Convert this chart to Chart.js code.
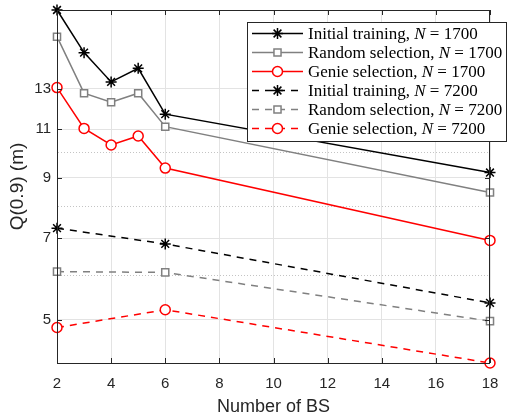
<!DOCTYPE html>
<html>
<head>
<meta charset="utf-8">
<script src="https://cdn.jsdelivr.net/npm/chart.js@4.4.1/dist/chart.umd.min.js"></script>
<style>
  body { margin: 0; background: #fff; }
  #wrap { width: 529px; height: 418px; }
</style>
</head>
<body>
<div id="wrap"><canvas id="qChart" width="529" height="418"></canvas></div>
<script>
// x positions (number of BS)
const bs1700 = [2, 3, 4, 5, 6, 18];
const bs7200 = [2, 6, 18];

// Q(0.9) in metres
const initial1700 = [18.0, 15.09, 13.37, 14.14, 11.70, 9.19];
const random1700 = [16.12, 12.76, 12.29, 12.76, 11.11, 8.46];
const genie1700 = [13.06, 11.03, 10.30, 10.69, 9.36, 6.94];
const initial7200 = [7.30, 6.84, 5.36];
const random7200 = [6.10, 6.08, 4.97];
const genie7200 = [4.84, 5.21, 4.18];

const legendNames = ['Initial training', 'Random selection', 'Genie selection',
                     'Initial training', 'Random selection', 'Genie selection'];
const legendN = ['1700', '1700', '1700', '7200', '7200', '7200'];

const yTickValues = [5, 7, 9, 11, 13];
const yMinorGrid = [6, 8, 10];
const yMin = 4.18, yMax = 18.0;

const axisColor = '#262626';
const sansFont = '"Liberation Sans", Arial, sans-serif';
const DASH = [7, 6];

function pts(xs, ys) {
    return xs.map((x, i) => ({ x: x, y: ys[i] }));
}

function series(label, xs, ys, color, style, dashed) {
    return {
        label: label,
        data: pts(xs, ys),
        borderColor: color,
        backgroundColor: '#fff',
        pointBackgroundColor: style === 'star' ? color : '#fff',
        pointBorderColor: color,
        borderWidth: 1.5,
        pointBorderWidth: 1.5,
        borderDash: dashed ? DASH : [],
        pointStyle: style,
        pointRadius: style === 'star' ? 5.5 : 5,
        tension: 0,
        clip: false
    };
}

// box around plot with inward ticks like matlab
const boxPlugin = {
    id: 'axesBox',
    afterDatasetsDraw(chart) {
        const c = chart.ctx, a = chart.chartArea;
        const xs = chart.scales.x, ys = chart.scales.y;
        c.save();
        c.strokeStyle = axisColor;
        c.lineWidth = 1;
        c.strokeRect(Math.round(a.left) + 0.5, Math.round(a.top) + 0.5,
                     Math.round(a.right - a.left) - 1, Math.round(a.bottom - a.top));
        c.beginPath();
        for (let v = 2; v <= 18; v += 2) {
            const px = Math.round(xs.getPixelForValue(v)) + 0.5;
            c.moveTo(px, a.bottom); c.lineTo(px, a.bottom - 5);
            c.moveTo(px, a.top); c.lineTo(px, a.top + 5);
        }
        yTickValues.forEach(v => {
            const py = Math.round(ys.getPixelForValue(v)) + 0.5;
            c.moveTo(a.left, py); c.lineTo(a.left + 5, py);
            c.moveTo(a.right, py); c.lineTo(a.right - 5, py);
        });
        c.stroke();
        c.restore();
    }
};

const legendPlugin = {
    id: 'boxLegend',
    afterDraw(chart) {
        const c = chart.ctx;
        const x0 = 247.5, y0 = 22.5, w = 259, h = 119;
        c.save();
        c.fillStyle = '#fff';
        c.fillRect(x0, y0, w, h);
        c.strokeStyle = axisColor;
        c.lineWidth = 1;
        c.strokeRect(x0, y0, w, h);
        chart.data.datasets.forEach((ds, i) => {
            const y = 33.5 + i * 19;
            c.strokeStyle = ds.borderColor;
            c.lineWidth = ds.borderWidth;
            c.setLineDash(ds.borderDash);
            c.beginPath();
            c.moveTo(252, y);
            c.lineTo(303, y);
            c.stroke();
            c.setLineDash([]);
            c.fillStyle = ds.pointBackgroundColor;
            Chart.helpers.drawPoint(c, {
                pointStyle: ds.pointStyle,
                radius: ds.pointRadius,
                borderWidth: ds.pointBorderWidth,
                rotation: 0
            }, 277.5, y);

            c.fillStyle = '#000';
            c.textBaseline = 'middle';
            let tx = 308;
            const plain = '17px "Liberation Serif", serif';
            const ital = 'italic 17px "Liberation Serif", serif';
            c.font = plain;
            const s1 = legendNames[i] + ', ';
            c.fillText(s1, tx, y + 1);
            tx += c.measureText(s1).width;
            c.font = ital;
            c.fillText('N', tx, y + 1);
            tx += c.measureText('N').width;
            c.font = plain;
            c.fillText(' = ' + legendN[i], tx, y + 1);
        });
        c.restore();
    }
};

const ctx = document.getElementById('qChart').getContext('2d');
new Chart(ctx, {
    type: 'line',
    data: {
        datasets: [
            series('Initial training, N = 1700', bs1700, initial1700, '#000000', 'star', false),
            series('Random selection, N = 1700', bs1700, random1700, '#808080', 'rect', false),
            series('Genie selection, N = 1700', bs1700, genie1700, '#ff0000', 'circle', false),
            series('Initial training, N = 7200', bs7200, initial7200, '#000000', 'star', true),
            series('Random selection, N = 7200', bs7200, random7200, '#808080', 'rect', true),
            series('Genie selection, N = 7200', bs7200, genie7200, '#ff0000', 'circle', true)
        ]
    },
    options: {
        responsive: false,
        animation: false,
        layout: { padding: { top: 10, right: 39, left: 0, bottom: 0 } },
        plugins: {
            legend: { display: false },
            tooltip: { enabled: false }
        },
        scales: {
            x: {
                type: 'linear',
                min: 2,
                max: 18,
                afterFit: s => { s.height = 55; },
                ticks: {
                    stepSize: 2,
                    color: axisColor,
                    padding: 12,
                    font: { family: sansFont, size: 15 }
                },
                grid: { color: '#e3e3e3', drawTicks: false },
                border: { color: axisColor },
                title: {
                    display: true,
                    text: 'Number of BS',
                    color: axisColor,
                    padding: { top: 0, bottom: 0 },
                    font: { family: sansFont, size: 18 }
                }
            },
            y: {
                type: 'logarithmic',
                min: yMin,
                max: yMax,
                afterFit: s => {
                    s.width = 57;
                    s.paddingTop = 0;
                    s.paddingBottom = 0;
                },
                afterBuildTicks: s => {
                    s.ticks = yTickValues.concat(yMinorGrid).sort((a, b) => a - b).map(v => ({ value: v }));
                },
                ticks: {
                    autoSkip: false,
                    color: axisColor,
                    padding: 6,
                    font: { family: sansFont, size: 15 },
                    callback: v => yTickValues.includes(v) ? String(v) : ''
                },
                grid: {
                    drawTicks: false,
                    color: c => (c.tick && yMinorGrid.includes(c.tick.value)) ? '#c4c4c4' : '#e3e3e3'
                },
                border: {
                    color: axisColor,
                    dash: c => (c.tick && yMinorGrid.includes(c.tick.value)) ? [1, 2] : []
                },
                title: {
                    display: true,
                    text: 'Q(0.9) (m)',
                    color: axisColor,
                    padding: { top: 6, bottom: 0 },
                    font: { family: sansFont, size: 19 }
                }
            }
        }
    },
    plugins: [boxPlugin, legendPlugin]
});
</script>
</body>
</html>
